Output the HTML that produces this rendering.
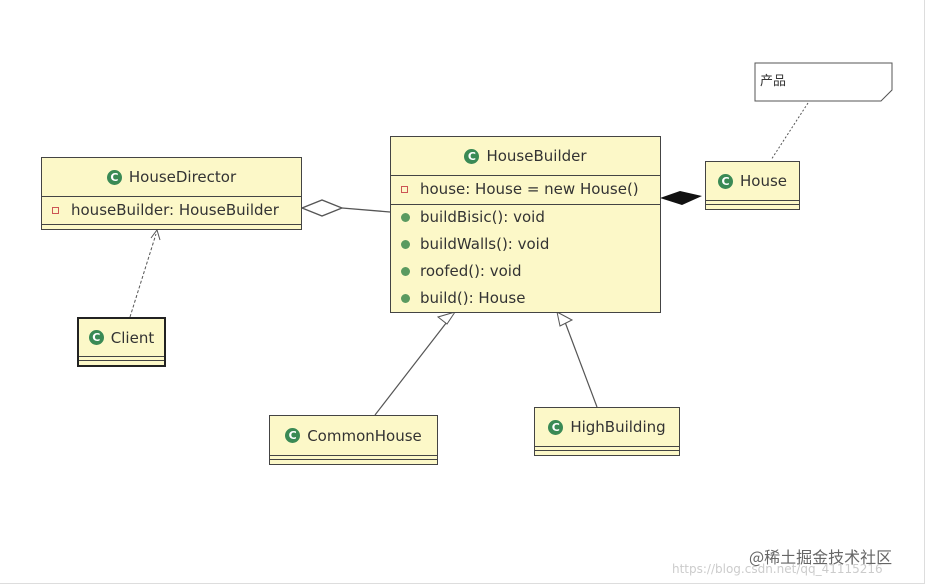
<!DOCTYPE html>
<html><head><meta charset="utf-8"><style>
body{margin:0;width:926px;height:585px;background:#fff;position:relative;overflow:hidden;font-family:"DejaVu Sans","Liberation Sans","Noto Sans CJK SC",sans-serif;color:#333}
.b{position:absolute;background:#fcf8c8;border:1px solid #444;box-sizing:border-box}
.h{display:flex;align-items:center;justify-content:center;font-size:15px;border-bottom:1px solid #444}
.g{display:inline-block;width:15px;height:15px;border-radius:50%;background:#3a8a55;color:#fff;font-size:11px;font-weight:bold;line-height:15px;text-align:center;margin-right:7px}
.r{font-size:15px;height:27px;line-height:27px;padding-left:10px;white-space:nowrap}
.sq{display:inline-block;width:5px;height:5px;border:1px solid #c55;margin-right:12px;vertical-align:middle}
.dot{display:inline-block;width:9px;height:9px;border-radius:50%;background:#5a9a60;margin-right:10px;vertical-align:middle}
.sep{border-top:1px solid #444}
.ft{position:absolute;left:0;right:0;bottom:4px;border-top:1px solid #444}
</style></head><body>
<div style="position:absolute;left:0;top:0;width:925px;height:584px;border-right:1px solid #ddd;border-bottom:1px solid #ddd;box-sizing:border-box"></div>
<svg width="926" height="585" style="position:absolute;left:0;top:0">
<line x1="342" y1="208" x2="390" y2="212" stroke="#555" stroke-width="1.3"/>
<polygon points="302,208 322,200 342,208 322,216" fill="#fff" stroke="#555" stroke-width="1.3"/>
<polygon points="660,198 680,191 702,196 682,205" fill="#111"/>
<line x1="130" y1="317" x2="156" y2="234" stroke="#555" stroke-dasharray="3,2"/>
<polyline points="151,238 157,230 160,240" fill="none" stroke="#555"/>
<line x1="375" y1="415" x2="450" y2="318" stroke="#555" stroke-width="1.2"/>
<polygon points="455,312 447,324 438,317" fill="#fff" stroke="#555"/>
<line x1="597" y1="407" x2="565" y2="322" stroke="#555" stroke-width="1.2"/>
<polygon points="557,312 572,320 560,326" fill="#fff" stroke="#555"/>
<line x1="808" y1="103" x2="771" y2="160" stroke="#555" stroke-dasharray="2,2"/>
<polygon points="755,63 892,63 892,90 881,101 755,101" fill="#fff" stroke="#555"/>
</svg>
<div style="position:absolute;left:760px;top:70px;font-size:13px;font-family:'Noto Sans CJK SC',sans-serif">产品</div>

<div class="b" style="left:41px;top:157px;width:261px;height:73px">
<div class="h" style="height:38px"><span class="g">C</span>HouseDirector</div>
<div class="r"><span class="sq"></span>houseBuilder: HouseBuilder</div>
<div class="ft"></div></div>

<div class="b" style="left:390px;top:136px;width:271px;height:177px">
<div class="h" style="height:38px"><span class="g">C</span>HouseBuilder</div>
<div class="r" style="height:28px;line-height:26px"><span class="sq"></span>house: House = new House()</div>
<div class="sep"></div>
<div class="r" style="line-height:24px"><span class="dot"></span>buildBisic(): void</div>
<div class="r" style="line-height:24px"><span class="dot"></span>buildWalls(): void</div>
<div class="r" style="line-height:24px"><span class="dot"></span>roofed(): void</div>
<div class="r" style="line-height:24px"><span class="dot"></span>build(): House</div>
</div>

<div class="b" style="left:705px;top:161px;width:95px;height:49px">
<div class="h" style="height:38px"><span class="g">C</span>House</div><div class="ft"></div></div>

<div class="b" style="left:77px;top:317px;width:89px;height:50px;border:2px solid #222">
<div class="h" style="height:37px"><span class="g">C</span>Client</div><div class="ft"></div></div>

<div class="b" style="left:269px;top:415px;width:169px;height:50px">
<div class="h" style="height:39px"><span class="g">C</span>CommonHouse</div><div class="ft"></div></div>

<div class="b" style="left:534px;top:407px;width:146px;height:49px">
<div class="h" style="height:38px"><span class="g">C</span>HighBuilding</div><div class="ft"></div></div>

<div style="position:absolute;left:749px;top:544px;font-size:16px;color:#666;font-family:'Noto Sans CJK SC',sans-serif">@稀土掘金技术社区</div>
<div style="position:absolute;left:672px;top:562px;font-size:12px;color:#ccc">https://blog.csdn.net/qq_41115216</div>
</body></html>
